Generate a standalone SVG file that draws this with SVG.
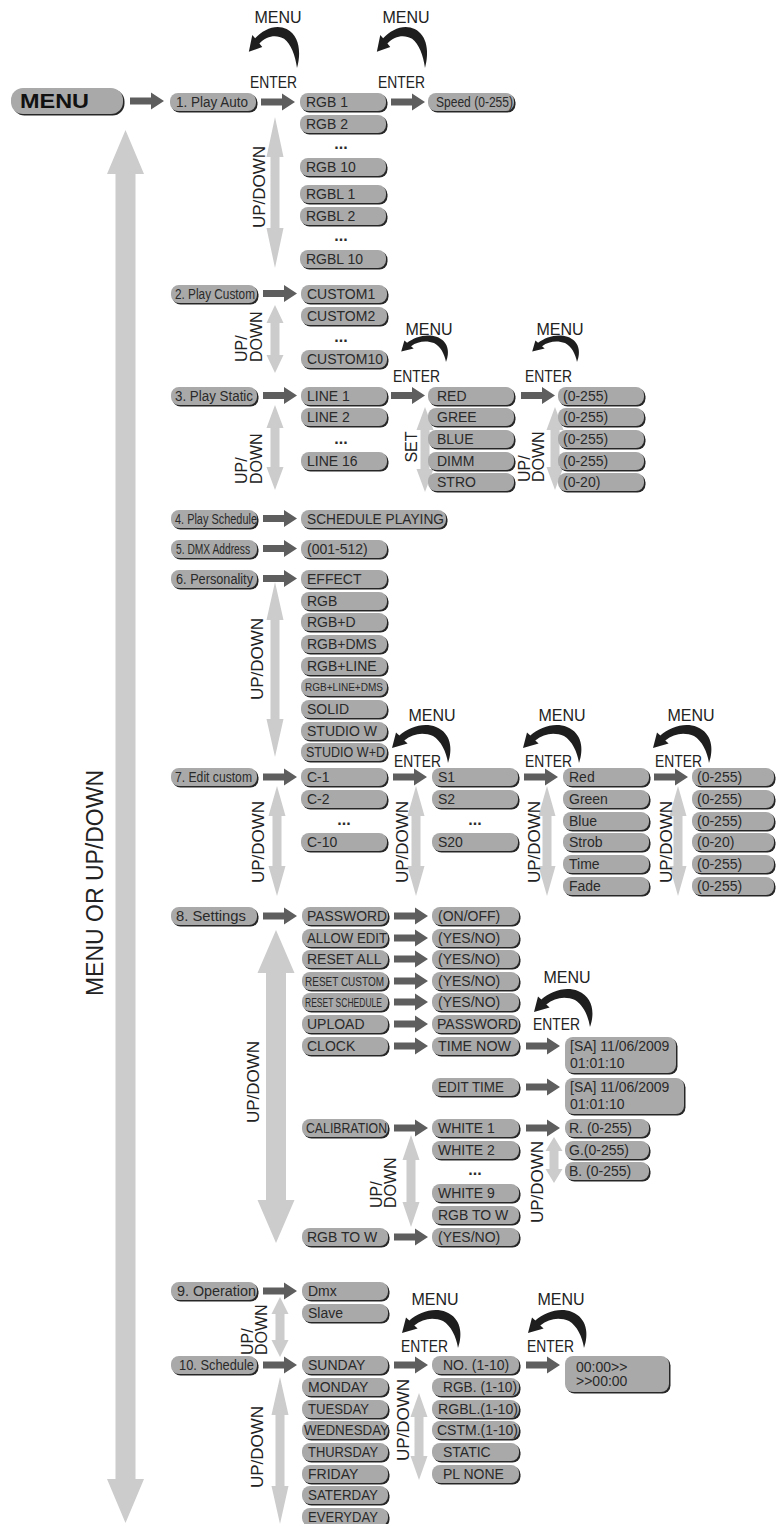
<svg xmlns="http://www.w3.org/2000/svg" xmlns:xlink="http://www.w3.org/1999/xlink" width="777" height="1524" viewBox="0 0 777 1524">
<style>
.bx{fill:#a9a9a9}
.sh{fill:#262626}
.t{font-family:"Liberation Sans",Arial,sans-serif;font-size:14px;fill:#2a2a2a}
.lb{font-family:"Liberation Sans",Arial,sans-serif;font-size:16px;fill:#222}
.dots{font-family:"Liberation Sans",Arial,sans-serif;font-size:16px;font-weight:bold;fill:#2a2a2a}
.da{fill:#cccccc}
.ar{fill:#5e5e5e}
.cv{fill:#1e1e1e}
</style>
<defs>
<path id="arr" d="M0,-3.5 H21 V-8.5 L34,0 L21,8.5 V3.5 H0 Z"/>
<path id="crv" d="M0,0 C5,-14 3,-30 -12,-36 C-24,-41 -39,-36 -48.7,-27.5 L-52,-30.6 L-56,-15 L-40.4,-19.4 L-43.7,-22.6 C-35,-30 -24,-31 -15,-27 C-7,-22 -2,-12 0,0 Z"/>
</defs>
<rect width="777" height="1524" fill="#ffffff"/>

<g id="connectors">
<!-- light grey double arrows -->
<path class="da" d="M125.5,130 L144,174 L135.5,174 L135.5,1479 L144,1479 L125.5,1523 L107,1479 L115.5,1479 L115.5,174 L107,174 Z"/>
<path class="da" d="M276,930 L294.5,973 L286,973 L286,1200 L294.5,1200 L276,1243 L257.5,1200 L266,1200 L266,973 L257.5,973 Z"/>
<path class="da" d="M275,117 L283.5,157 L279.5,157 L279.5,228 L283.5,228 L275,268 L266.5,228 L270.5,228 L270.5,157 L266.5,157 Z"/>
<path class="da" d="M275,305 L283.5,323 L279.5,323 L279.5,355 L283.5,355 L275,373 L266.5,355 L270.5,355 L270.5,323 L266.5,323 Z"/>
<path class="da" d="M275,405 L283.5,428 L279.5,428 L279.5,467 L283.5,467 L275,490 L266.5,467 L270.5,467 L270.5,428 L266.5,428 Z"/>
<path class="da" d="M425,407 L433.5,430 L429.5,430 L429.5,469 L433.5,469 L425,492 L416.5,469 L420.5,469 L420.5,430 L416.5,430 Z"/>
<path class="da" d="M555,407 L563.5,430 L559.5,430 L559.5,467 L563.5,467 L555,490 L546.5,467 L550.5,467 L550.5,430 L546.5,430 Z"/>
<path class="da" d="M275,582 L283.5,620 L279.5,620 L279.5,719 L283.5,719 L275,757 L266.5,719 L270.5,719 L270.5,620 L266.5,620 Z"/>
<path class="da" d="M277,786 L285.5,816 L281.5,816 L281.5,866 L285.5,866 L277,896 L268.5,866 L272.5,866 L272.5,816 L268.5,816 Z"/>
<path class="da" d="M416,786 L424.5,816 L420.5,816 L420.5,866 L424.5,866 L416,896 L407.5,866 L411.5,866 L411.5,816 L407.5,816 Z"/>
<path class="da" d="M547,786 L555.5,816 L551.5,816 L551.5,866 L555.5,866 L547,896 L538.5,866 L542.5,866 L542.5,816 L538.5,816 Z"/>
<path class="da" d="M678,786 L686.5,816 L682.5,816 L682.5,866 L686.5,866 L678,896 L669.5,866 L673.5,866 L673.5,816 L669.5,816 Z"/>
<path class="da" d="M411,1135 L419.5,1160 L415.5,1160 L415.5,1202 L419.5,1202 L411,1227 L402.5,1202 L406.5,1202 L406.5,1160 L402.5,1160 Z"/>
<path class="da" d="M554,1137 L562.5,1151 L558.5,1151 L558.5,1169 L562.5,1169 L554,1183 L545.5,1169 L549.5,1169 L549.5,1151 L545.5,1151 Z"/>
<path class="da" d="M280,1297 L288.5,1314 L284.5,1314 L284.5,1340 L288.5,1340 L280,1357 L271.5,1340 L275.5,1340 L275.5,1314 L271.5,1314 Z"/>
<path class="da" d="M280,1377 L288.5,1415 L284.5,1415 L284.5,1486 L288.5,1486 L280,1524 L271.5,1486 L275.5,1486 L275.5,1415 L271.5,1415 Z"/>
<path class="da" d="M419,1393 L427.5,1417 L423.5,1417 L423.5,1456 L427.5,1456 L419,1480 L410.5,1456 L414.5,1456 L414.5,1417 L410.5,1417 Z"/>

<!-- dark block arrows -->
<use href="#arr" class="ar" x="130" y="101"/>
<use href="#arr" class="ar" x="261" y="102"/>
<use href="#arr" class="ar" x="391" y="102"/>
<use href="#arr" class="ar" x="263" y="293.5"/>
<use href="#arr" class="ar" x="263" y="395.5"/>
<use href="#arr" class="ar" x="391" y="395.5"/>
<use href="#arr" class="ar" x="521" y="395.5"/>
<use href="#arr" class="ar" x="263" y="518.5"/>
<use href="#arr" class="ar" x="263" y="548.5"/>
<use href="#arr" class="ar" x="263" y="578.5"/>
<use href="#arr" class="ar" x="263" y="777"/>
<use href="#arr" class="ar" x="393" y="777"/>
<use href="#arr" class="ar" x="524" y="777"/>
<use href="#arr" class="ar" x="654" y="777"/>
<use href="#arr" class="ar" x="263" y="916"/>
<use href="#arr" class="ar" x="394" y="916"/>
<use href="#arr" class="ar" x="394" y="938"/>
<use href="#arr" class="ar" x="394" y="959"/>
<use href="#arr" class="ar" x="394" y="981"/>
<use href="#arr" class="ar" x="394" y="1002"/>
<use href="#arr" class="ar" x="394" y="1024"/>
<use href="#arr" class="ar" x="394" y="1046"/>
<use href="#arr" class="ar" x="526" y="1046"/>
<use href="#arr" class="ar" x="526" y="1087"/>
<use href="#arr" class="ar" x="394" y="1128"/>
<use href="#arr" class="ar" x="526" y="1128"/>
<use href="#arr" class="ar" x="394" y="1237"/>
<use href="#arr" class="ar" x="263" y="1291"/>
<use href="#arr" class="ar" x="263" y="1365"/>
<use href="#arr" class="ar" x="394" y="1365"/>
<use href="#arr" class="ar" x="526" y="1365"/>

<!-- MENU / ENTER curved arrows -->
<use href="#crv" class="cv" transform="translate(297,68) scale(0.86,1.08)"/>
<use href="#crv" class="cv" transform="translate(425,68) scale(0.86,1.08)"/>
<use href="#crv" class="cv" transform="translate(446,362) scale(0.8,0.7)"/>
<use href="#crv" class="cv" transform="translate(577,362) scale(0.8,0.7)"/>
<use href="#crv" class="cv" transform="translate(448,763)"/>
<use href="#crv" class="cv" transform="translate(579,763)"/>
<use href="#crv" class="cv" transform="translate(709,763)"/>
<use href="#crv" class="cv" transform="translate(590,1027)"/>
<use href="#crv" class="cv" transform="translate(458,1348)"/>
<use href="#crv" class="cv" transform="translate(584,1348)"/>

<!-- labels -->
<text class="lb" x="278" y="23" text-anchor="middle">MENU</text>
<text class="lb" x="250" y="88" textLength="47" lengthAdjust="spacingAndGlyphs">ENTER</text>
<text class="lb" x="406" y="23" text-anchor="middle">MENU</text>
<text class="lb" x="378" y="88" textLength="47" lengthAdjust="spacingAndGlyphs">ENTER</text>
<text class="lb" x="429" y="335" text-anchor="middle">MENU</text>
<text class="lb" x="393" y="382" textLength="47" lengthAdjust="spacingAndGlyphs">ENTER</text>
<text class="lb" x="560" y="335" text-anchor="middle">MENU</text>
<text class="lb" x="525" y="382" textLength="47" lengthAdjust="spacingAndGlyphs">ENTER</text>
<text class="lb" x="432" y="721" text-anchor="middle">MENU</text>
<text class="lb" x="394" y="767" textLength="47" lengthAdjust="spacingAndGlyphs">ENTER</text>
<text class="lb" x="562" y="721" text-anchor="middle">MENU</text>
<text class="lb" x="525" y="767" textLength="47" lengthAdjust="spacingAndGlyphs">ENTER</text>
<text class="lb" x="691" y="721" text-anchor="middle">MENU</text>
<text class="lb" x="655" y="767" textLength="47" lengthAdjust="spacingAndGlyphs">ENTER</text>
<text class="lb" x="567" y="983" text-anchor="middle">MENU</text>
<text class="lb" x="533" y="1030" textLength="47" lengthAdjust="spacingAndGlyphs">ENTER</text>
<text class="lb" x="435" y="1305" text-anchor="middle">MENU</text>
<text class="lb" x="401" y="1352" textLength="47" lengthAdjust="spacingAndGlyphs">ENTER</text>
<text class="lb" x="561" y="1305" text-anchor="middle">MENU</text>
<text class="lb" x="527" y="1352" textLength="47" lengthAdjust="spacingAndGlyphs">ENTER</text>

<text class="lb" style="font-size:23px" transform="translate(103,883) rotate(-90)" text-anchor="middle">MENU OR UP/DOWN</text>
<text class="lb" style="font-size:17px" transform="translate(265,187) rotate(-90)" text-anchor="middle">UP/DOWN</text>
<text class="lb" transform="translate(247,362) rotate(-90)">UP/</text>
<text class="lb" transform="translate(262,362) rotate(-90)">DOWN</text>
<text class="lb" transform="translate(247,484) rotate(-90)">UP/</text>
<text class="lb" transform="translate(262,484) rotate(-90)">DOWN</text>
<text class="lb" transform="translate(417,447) rotate(-90)" text-anchor="middle">SET</text>
<text class="lb" transform="translate(530,482) rotate(-90)">UP/</text>
<text class="lb" transform="translate(544,482) rotate(-90)">DOWN</text>
<text class="lb" style="font-size:17px" transform="translate(263,659) rotate(-90)" text-anchor="middle">UP/DOWN</text>
<text class="lb" style="font-size:17px" transform="translate(264,842) rotate(-90)" text-anchor="middle">UP/DOWN</text>
<text class="lb" style="font-size:17px" transform="translate(408,842) rotate(-90)" text-anchor="middle">UP/DOWN</text>
<text class="lb" style="font-size:17px" transform="translate(540,842) rotate(-90)" text-anchor="middle">UP/DOWN</text>
<text class="lb" style="font-size:17px" transform="translate(672,842) rotate(-90)" text-anchor="middle">UP/DOWN</text>
<text class="lb" style="font-size:17px" transform="translate(259,1082) rotate(-90)" text-anchor="middle">UP/DOWN</text>
<text class="lb" transform="translate(382,1208) rotate(-90)">UP/</text>
<text class="lb" transform="translate(396,1208) rotate(-90)">DOWN</text>
<text class="lb" style="font-size:17px" transform="translate(543,1182) rotate(-90)" text-anchor="middle">UP/DOWN</text>
<text class="lb" transform="translate(253,1355) rotate(-90)">UP/</text>
<text class="lb" transform="translate(267,1355) rotate(-90)">DOWN</text>
<text class="lb" style="font-size:17px" transform="translate(263,1447) rotate(-90)" text-anchor="middle">UP/DOWN</text>
<text class="lb" style="font-size:17px" transform="translate(409,1420) rotate(-90)" text-anchor="middle">UP/DOWN</text>

<!-- ellipses -->
<text class="dots" x="341" y="149" text-anchor="middle">...</text>
<text class="dots" x="341" y="241" text-anchor="middle">...</text>
<text class="dots" x="341" y="342" text-anchor="middle">...</text>
<text class="dots" x="341" y="444" text-anchor="middle">...</text>
<text class="dots" x="344" y="825" text-anchor="middle">...</text>
<text class="dots" x="475" y="825" text-anchor="middle">...</text>
<text class="dots" x="475" y="1175" text-anchor="middle">...</text>
</g>

<!-- MENU root -->
<g id="menu"><rect class="sh" x="12.5" y="89.5" width="112" height="26" rx="12"/><rect class="bx" x="11" y="88" width="112" height="26" rx="12"/><text x="20" y="108" style="font-family:'Liberation Sans',Arial,sans-serif;font-size:20px;font-weight:bold;fill:#111" textLength="69" lengthAdjust="spacingAndGlyphs">MENU</text></g>

<!-- column A -->
<g id="playauto"><rect class="sh" x="171.5" y="94.5" width="86" height="18" rx="8"/><rect class="bx" x="170" y="93" width="86" height="18" rx="8"/><text class="t" x="176" y="107" textLength="72" lengthAdjust="spacingAndGlyphs">1. Play Auto</text></g>
<g id="playcustom"><rect class="sh" x="172.5" y="286.5" width="86" height="18" rx="8"/><rect class="bx" x="171" y="285" width="86" height="18" rx="8"/><text class="t" x="175" y="299" textLength="80" lengthAdjust="spacingAndGlyphs">2. Play Custom</text></g>
<g id="playstatic"><rect class="sh" x="172.5" y="388.5" width="86" height="18" rx="8"/><rect class="bx" x="171" y="387" width="86" height="18" rx="8"/><text class="t" x="175" y="401" textLength="78" lengthAdjust="spacingAndGlyphs">3. Play Static</text></g>
<g id="playschedule"><rect class="sh" x="172.5" y="511.5" width="86" height="18" rx="8"/><rect class="bx" x="171" y="510" width="86" height="18" rx="8"/><text class="t" x="175" y="524" textLength="82" lengthAdjust="spacingAndGlyphs">4. Play Schedule</text></g>
<g id="dmxaddress"><rect class="sh" x="172.5" y="541.5" width="86" height="18" rx="8"/><rect class="bx" x="171" y="540" width="86" height="18" rx="8"/><text class="t" x="176" y="554" textLength="74" lengthAdjust="spacingAndGlyphs">5. DMX Address</text></g>
<g id="personality"><rect class="sh" x="172.5" y="571.5" width="86" height="18" rx="8"/><rect class="bx" x="171" y="570" width="86" height="18" rx="8"/><text class="t" x="176" y="584" textLength="77" lengthAdjust="spacingAndGlyphs">6. Personality</text></g>
<g id="editcustom"><rect class="sh" x="172.5" y="769.5" width="86" height="18" rx="8"/><rect class="bx" x="171" y="768" width="86" height="18" rx="8"/><text class="t" x="175" y="782" textLength="77" lengthAdjust="spacingAndGlyphs">7. Edit custom</text></g>
<g id="settings"><rect class="sh" x="172.5" y="908.5" width="86" height="18" rx="8"/><rect class="bx" x="171" y="907" width="86" height="18" rx="8"/><text class="t" x="176" y="921" textLength="70" lengthAdjust="spacingAndGlyphs">8. Settings</text></g>
<g id="operation"><rect class="sh" x="172.5" y="1283.5" width="86" height="18" rx="8"/><rect class="bx" x="171" y="1282" width="86" height="18" rx="8"/><text class="t" x="177" y="1296" textLength="79" lengthAdjust="spacingAndGlyphs">9. Operation</text></g>
<g id="schedule"><rect class="sh" x="172.5" y="1357.5" width="86" height="18" rx="8"/><rect class="bx" x="171" y="1356" width="86" height="18" rx="8"/><text class="t" x="179" y="1370" textLength="75" lengthAdjust="spacingAndGlyphs">10. Schedule</text></g>

<!-- row 1 -->
<g id="rgb1"><rect class="sh" x="301.5" y="94.5" width="86" height="18" rx="8"/><rect class="bx" x="300" y="93" width="86" height="18" rx="8"/><text class="t" x="306" y="107">RGB 1</text></g>
<g id="rgb2"><rect class="sh" x="301.5" y="116.5" width="86" height="18" rx="8"/><rect class="bx" x="300" y="115" width="86" height="18" rx="8"/><text class="t" x="306" y="129">RGB 2</text></g>
<g id="rgb10"><rect class="sh" x="301.5" y="159.5" width="86" height="18" rx="8"/><rect class="bx" x="300" y="158" width="86" height="18" rx="8"/><text class="t" x="306" y="172">RGB 10</text></g>
<g id="rgbl1"><rect class="sh" x="301.5" y="186.5" width="86" height="18" rx="8"/><rect class="bx" x="300" y="185" width="86" height="18" rx="8"/><text class="t" x="306" y="199">RGBL 1</text></g>
<g id="rgbl2"><rect class="sh" x="301.5" y="208.5" width="86" height="18" rx="8"/><rect class="bx" x="300" y="207" width="86" height="18" rx="8"/><text class="t" x="306" y="221">RGBL 2</text></g>
<g id="rgbl10"><rect class="sh" x="301.5" y="251.5" width="86" height="18" rx="8"/><rect class="bx" x="300" y="250" width="86" height="18" rx="8"/><text class="t" x="306" y="264">RGBL 10</text></g>
<g id="speed"><rect class="sh" x="429.5" y="94.5" width="86" height="18" rx="8"/><rect class="bx" x="428" y="93" width="86" height="18" rx="8"/><text class="t" x="436" y="107" textLength="77" lengthAdjust="spacingAndGlyphs">Speed (0-255)</text></g>

<!-- row 2 -->
<g id="custom1"><rect class="sh" x="302.5" y="286.5" width="86" height="18" rx="8"/><rect class="bx" x="301" y="285" width="86" height="18" rx="8"/><text class="t" x="307" y="299">CUSTOM1</text></g>
<g id="custom2"><rect class="sh" x="302.5" y="308.5" width="86" height="18" rx="8"/><rect class="bx" x="301" y="307" width="86" height="18" rx="8"/><text class="t" x="307" y="321">CUSTOM2</text></g>
<g id="custom10"><rect class="sh" x="302.5" y="351.5" width="86" height="18" rx="8"/><rect class="bx" x="301" y="350" width="86" height="18" rx="8"/><text class="t" x="307" y="364">CUSTOM10</text></g>

<!-- row 3 -->
<g id="line1"><rect class="sh" x="302.5" y="388.5" width="86" height="18" rx="8"/><rect class="bx" x="301" y="387" width="86" height="18" rx="8"/><text class="t" x="307" y="401">LINE 1</text></g>
<g id="line2"><rect class="sh" x="302.5" y="409.5" width="86" height="18" rx="8"/><rect class="bx" x="301" y="408" width="86" height="18" rx="8"/><text class="t" x="307" y="422">LINE 2</text></g>
<g id="line16"><rect class="sh" x="302.5" y="453.5" width="86" height="18" rx="8"/><rect class="bx" x="301" y="452" width="86" height="18" rx="8"/><text class="t" x="307" y="466">LINE 16</text></g>
<g id="red"><rect class="sh" x="429.5" y="388.5" width="86" height="18" rx="8"/><rect class="bx" x="428" y="387" width="86" height="18" rx="8"/><text class="t" x="437" y="401">RED</text></g>
<g id="gree"><rect class="sh" x="429.5" y="409.5" width="86" height="18" rx="8"/><rect class="bx" x="428" y="408" width="86" height="18" rx="8"/><text class="t" x="437" y="422">GREE</text></g>
<g id="blue"><rect class="sh" x="429.5" y="431.5" width="86" height="18" rx="8"/><rect class="bx" x="428" y="430" width="86" height="18" rx="8"/><text class="t" x="437" y="444">BLUE</text></g>
<g id="dimm"><rect class="sh" x="429.5" y="453.5" width="86" height="18" rx="8"/><rect class="bx" x="428" y="452" width="86" height="18" rx="8"/><text class="t" x="437" y="466">DIMM</text></g>
<g id="stro"><rect class="sh" x="429.5" y="474.5" width="86" height="18" rx="8"/><rect class="bx" x="428" y="473" width="86" height="18" rx="8"/><text class="t" x="437" y="487">STRO</text></g>
<g id="v1"><rect class="sh" x="559.5" y="388.5" width="86" height="18" rx="8"/><rect class="bx" x="558" y="387" width="86" height="18" rx="8"/><text class="t" x="563" y="401">(0-255)</text></g>
<g id="v2"><rect class="sh" x="559.5" y="409.5" width="86" height="18" rx="8"/><rect class="bx" x="558" y="408" width="86" height="18" rx="8"/><text class="t" x="563" y="422">(0-255)</text></g>
<g id="v3"><rect class="sh" x="559.5" y="431.5" width="86" height="18" rx="8"/><rect class="bx" x="558" y="430" width="86" height="18" rx="8"/><text class="t" x="563" y="444">(0-255)</text></g>
<g id="v4"><rect class="sh" x="559.5" y="453.5" width="86" height="18" rx="8"/><rect class="bx" x="558" y="452" width="86" height="18" rx="8"/><text class="t" x="563" y="466">(0-255)</text></g>
<g id="v5"><rect class="sh" x="559.5" y="474.5" width="86" height="18" rx="8"/><rect class="bx" x="558" y="473" width="86" height="18" rx="8"/><text class="t" x="563" y="487">(0-20)</text></g>

<!-- row 4/5 -->
<g id="schedplaying"><rect class="sh" x="302.5" y="511.5" width="145" height="18" rx="8"/><rect class="bx" x="301" y="510" width="145" height="18" rx="8"/><text class="t" x="307" y="524" textLength="137" lengthAdjust="spacingAndGlyphs">SCHEDULE PLAYING</text></g>
<g id="dmxrange"><rect class="sh" x="302.5" y="541.5" width="86" height="18" rx="8"/><rect class="bx" x="301" y="540" width="86" height="18" rx="8"/><text class="t" x="307" y="554">(001-512)</text></g>

<!-- row 6 -->
<g id="effect"><rect class="sh" x="302.5" y="571.5" width="86" height="18" rx="8"/><rect class="bx" x="301" y="570" width="86" height="18" rx="8"/><text class="t" x="307" y="584">EFFECT</text></g>
<g id="p-rgb"><rect class="sh" x="302.5" y="593.5" width="86" height="18" rx="8"/><rect class="bx" x="301" y="592" width="86" height="18" rx="8"/><text class="t" x="307" y="606">RGB</text></g>
<g id="p-rgbd"><rect class="sh" x="302.5" y="614.5" width="86" height="18" rx="8"/><rect class="bx" x="301" y="613" width="86" height="18" rx="8"/><text class="t" x="307" y="627">RGB+D</text></g>
<g id="p-rgbdms"><rect class="sh" x="302.5" y="636.5" width="86" height="18" rx="8"/><rect class="bx" x="301" y="635" width="86" height="18" rx="8"/><text class="t" x="307" y="649">RGB+DMS</text></g>
<g id="p-rgbline"><rect class="sh" x="302.5" y="658.5" width="86" height="18" rx="8"/><rect class="bx" x="301" y="657" width="86" height="18" rx="8"/><text class="t" x="307" y="671">RGB+LINE</text></g>
<g id="p-rgblinedms"><rect class="sh" x="302.5" y="679.5" width="86" height="18" rx="8"/><rect class="bx" x="301" y="678" width="86" height="18" rx="8"/><text class="t" x="305" y="691" style="font-size:10px" textLength="78" lengthAdjust="spacingAndGlyphs">RGB+LINE+DMS</text></g>
<g id="p-solid"><rect class="sh" x="302.5" y="701.5" width="86" height="18" rx="8"/><rect class="bx" x="301" y="700" width="86" height="18" rx="8"/><text class="t" x="307" y="714">SOLID</text></g>
<g id="p-studiow"><rect class="sh" x="302.5" y="723.5" width="86" height="18" rx="8"/><rect class="bx" x="301" y="722" width="86" height="18" rx="8"/><text class="t" x="307" y="736">STUDIO W</text></g>
<g id="p-studiowd"><rect class="sh" x="302.5" y="744.5" width="86" height="18" rx="8"/><rect class="bx" x="301" y="743" width="86" height="18" rx="8"/><text class="t" x="306" y="757" textLength="79" lengthAdjust="spacingAndGlyphs">STUDIO W+D</text></g>

<!-- row 7 -->
<g id="c1"><rect class="sh" x="302.5" y="769.5" width="86" height="18" rx="8"/><rect class="bx" x="301" y="768" width="86" height="18" rx="8"/><text class="t" x="307" y="782">C-1</text></g>
<g id="c2"><rect class="sh" x="302.5" y="791.5" width="86" height="18" rx="8"/><rect class="bx" x="301" y="790" width="86" height="18" rx="8"/><text class="t" x="307" y="804">C-2</text></g>
<g id="c10"><rect class="sh" x="302.5" y="834.5" width="86" height="18" rx="8"/><rect class="bx" x="301" y="833" width="86" height="18" rx="8"/><text class="t" x="307" y="847">C-10</text></g>
<g id="s1"><rect class="sh" x="433.5" y="769.5" width="86" height="18" rx="8"/><rect class="bx" x="432" y="768" width="86" height="18" rx="8"/><text class="t" x="438" y="782">S1</text></g>
<g id="s2"><rect class="sh" x="433.5" y="791.5" width="86" height="18" rx="8"/><rect class="bx" x="432" y="790" width="86" height="18" rx="8"/><text class="t" x="438" y="804">S2</text></g>
<g id="s20"><rect class="sh" x="433.5" y="834.5" width="86" height="18" rx="8"/><rect class="bx" x="432" y="833" width="86" height="18" rx="8"/><text class="t" x="438" y="847">S20</text></g>
<g id="e-red"><rect class="sh" x="564.5" y="769.5" width="86" height="18" rx="8"/><rect class="bx" x="563" y="768" width="86" height="18" rx="8"/><text class="t" x="569" y="782">Red</text></g>
<g id="e-green"><rect class="sh" x="564.5" y="791.5" width="86" height="18" rx="8"/><rect class="bx" x="563" y="790" width="86" height="18" rx="8"/><text class="t" x="569" y="804">Green</text></g>
<g id="e-blue"><rect class="sh" x="564.5" y="813.5" width="86" height="18" rx="8"/><rect class="bx" x="563" y="812" width="86" height="18" rx="8"/><text class="t" x="569" y="826">Blue</text></g>
<g id="e-strob"><rect class="sh" x="564.5" y="834.5" width="86" height="18" rx="8"/><rect class="bx" x="563" y="833" width="86" height="18" rx="8"/><text class="t" x="569" y="847">Strob</text></g>
<g id="e-time"><rect class="sh" x="564.5" y="856.5" width="86" height="18" rx="8"/><rect class="bx" x="563" y="855" width="86" height="18" rx="8"/><text class="t" x="569" y="869">Time</text></g>
<g id="e-fade"><rect class="sh" x="564.5" y="878.5" width="86" height="18" rx="8"/><rect class="bx" x="563" y="877" width="86" height="18" rx="8"/><text class="t" x="569" y="891">Fade</text></g>
<g id="ev1"><rect class="sh" x="693.5" y="769.5" width="82" height="18" rx="8"/><rect class="bx" x="692" y="768" width="82" height="18" rx="8"/><text class="t" x="697" y="782">(0-255)</text></g>
<g id="ev2"><rect class="sh" x="693.5" y="791.5" width="82" height="18" rx="8"/><rect class="bx" x="692" y="790" width="82" height="18" rx="8"/><text class="t" x="697" y="804">(0-255)</text></g>
<g id="ev3"><rect class="sh" x="693.5" y="813.5" width="82" height="18" rx="8"/><rect class="bx" x="692" y="812" width="82" height="18" rx="8"/><text class="t" x="697" y="826">(0-255)</text></g>
<g id="ev4"><rect class="sh" x="693.5" y="834.5" width="82" height="18" rx="8"/><rect class="bx" x="692" y="833" width="82" height="18" rx="8"/><text class="t" x="697" y="847">(0-20)</text></g>
<g id="ev5"><rect class="sh" x="693.5" y="856.5" width="82" height="18" rx="8"/><rect class="bx" x="692" y="855" width="82" height="18" rx="8"/><text class="t" x="697" y="869">(0-255)</text></g>
<g id="ev6"><rect class="sh" x="693.5" y="878.5" width="82" height="18" rx="8"/><rect class="bx" x="692" y="877" width="82" height="18" rx="8"/><text class="t" x="697" y="891">(0-255)</text></g>

<!-- row 8 -->
<g id="password"><rect class="sh" x="303.5" y="908.5" width="86" height="18" rx="8"/><rect class="bx" x="302" y="907" width="86" height="18" rx="8"/><text class="t" x="307" y="921" textLength="80" lengthAdjust="spacingAndGlyphs">PASSWORD</text></g>
<g id="allowedit"><rect class="sh" x="303.5" y="930.5" width="86" height="18" rx="8"/><rect class="bx" x="302" y="929" width="86" height="18" rx="8"/><text class="t" x="307" y="943" textLength="80" lengthAdjust="spacingAndGlyphs">ALLOW EDIT</text></g>
<g id="resetall"><rect class="sh" x="303.5" y="951.5" width="86" height="18" rx="8"/><rect class="bx" x="302" y="950" width="86" height="18" rx="8"/><text class="t" x="307" y="964">RESET ALL</text></g>
<g id="resetcustom"><rect class="sh" x="303.5" y="973.5" width="86" height="18" rx="8"/><rect class="bx" x="302" y="972" width="86" height="18" rx="8"/><text class="t" x="305" y="986" style="font-size:12px" textLength="79" lengthAdjust="spacingAndGlyphs">RESET CUSTOM</text></g>
<g id="resetschedule"><rect class="sh" x="303.5" y="994.5" width="86" height="18" rx="8"/><rect class="bx" x="302" y="993" width="86" height="18" rx="8"/><text class="t" x="305" y="1007" style="font-size:12px" textLength="77" lengthAdjust="spacingAndGlyphs">RESET SCHEDULE</text></g>
<g id="upload"><rect class="sh" x="303.5" y="1016.5" width="86" height="18" rx="8"/><rect class="bx" x="302" y="1015" width="86" height="18" rx="8"/><text class="t" x="307" y="1029">UPLOAD</text></g>
<g id="clock"><rect class="sh" x="303.5" y="1038.5" width="86" height="18" rx="8"/><rect class="bx" x="302" y="1037" width="86" height="18" rx="8"/><text class="t" x="307" y="1051">CLOCK</text></g>
<g id="calibration"><rect class="sh" x="303.5" y="1120.5" width="86" height="18" rx="8"/><rect class="bx" x="302" y="1119" width="86" height="18" rx="8"/><text class="t" x="306" y="1133" textLength="81" lengthAdjust="spacingAndGlyphs">CALIBRATION</text></g>
<g id="rgbtow"><rect class="sh" x="303.5" y="1229.5" width="86" height="18" rx="8"/><rect class="bx" x="302" y="1228" width="86" height="18" rx="8"/><text class="t" x="307" y="1242">RGB TO W</text></g>
<g id="onoff"><rect class="sh" x="433.5" y="908.5" width="87" height="18" rx="8"/><rect class="bx" x="432" y="907" width="87" height="18" rx="8"/><text class="t" x="438" y="921">(ON/OFF)</text></g>
<g id="yn1"><rect class="sh" x="433.5" y="930.5" width="87" height="18" rx="8"/><rect class="bx" x="432" y="929" width="87" height="18" rx="8"/><text class="t" x="438" y="943">(YES/NO)</text></g>
<g id="yn2"><rect class="sh" x="433.5" y="951.5" width="87" height="18" rx="8"/><rect class="bx" x="432" y="950" width="87" height="18" rx="8"/><text class="t" x="438" y="964">(YES/NO)</text></g>
<g id="yn3"><rect class="sh" x="433.5" y="973.5" width="87" height="18" rx="8"/><rect class="bx" x="432" y="972" width="87" height="18" rx="8"/><text class="t" x="438" y="986">(YES/NO)</text></g>
<g id="yn4"><rect class="sh" x="433.5" y="994.5" width="87" height="18" rx="8"/><rect class="bx" x="432" y="993" width="87" height="18" rx="8"/><text class="t" x="438" y="1007">(YES/NO)</text></g>
<g id="uploadpw"><rect class="sh" x="433.5" y="1016.5" width="87" height="18" rx="8"/><rect class="bx" x="432" y="1015" width="87" height="18" rx="8"/><text class="t" x="437" y="1029" textLength="81" lengthAdjust="spacingAndGlyphs">PASSWORD</text></g>
<g id="timenow"><rect class="sh" x="433.5" y="1038.5" width="87" height="18" rx="8"/><rect class="bx" x="432" y="1037" width="87" height="18" rx="8"/><text class="t" x="438" y="1051" textLength="73" lengthAdjust="spacingAndGlyphs">TIME NOW</text></g>
<g id="edittime"><rect class="sh" x="433.5" y="1079.5" width="87" height="18" rx="8"/><rect class="bx" x="432" y="1078" width="87" height="18" rx="8"/><text class="t" x="438" y="1092" textLength="66" lengthAdjust="spacingAndGlyphs">EDIT TIME</text></g>
<g id="white1"><rect class="sh" x="433.5" y="1120.5" width="87" height="18" rx="8"/><rect class="bx" x="432" y="1119" width="87" height="18" rx="8"/><text class="t" x="438" y="1133">WHITE 1</text></g>
<g id="white2"><rect class="sh" x="433.5" y="1142.5" width="87" height="18" rx="8"/><rect class="bx" x="432" y="1141" width="87" height="18" rx="8"/><text class="t" x="438" y="1155">WHITE 2</text></g>
<g id="white9"><rect class="sh" x="433.5" y="1185.5" width="87" height="18" rx="8"/><rect class="bx" x="432" y="1184" width="87" height="18" rx="8"/><text class="t" x="438" y="1198">WHITE 9</text></g>
<g id="rgbtow2"><rect class="sh" x="433.5" y="1207.5" width="87" height="18" rx="8"/><rect class="bx" x="432" y="1206" width="87" height="18" rx="8"/><text class="t" x="438" y="1220">RGB TO W</text></g>
<g id="yn5"><rect class="sh" x="433.5" y="1229.5" width="87" height="18" rx="8"/><rect class="bx" x="432" y="1228" width="87" height="18" rx="8"/><text class="t" x="438" y="1242">(YES/NO)</text></g>
<g id="sa1"><rect class="sh" x="566.5" y="1038.5" width="111" height="36" rx="8"/><rect class="bx" x="565" y="1037" width="111" height="36" rx="8"/><text class="t" x="570" y="1051">[SA] 11/06/2009</text><text class="t" x="570" y="1068">01:01:10</text></g>
<g id="sa2"><rect class="sh" x="566.5" y="1079.5" width="119" height="36" rx="8"/><rect class="bx" x="565" y="1078" width="119" height="36" rx="8"/><text class="t" x="570" y="1092">[SA] 11/06/2009</text><text class="t" x="570" y="1109">01:01:10</text></g>
<g id="calr"><rect class="sh" x="566.5" y="1120.5" width="84" height="18" rx="8"/><rect class="bx" x="565" y="1119" width="84" height="18" rx="8"/><text class="t" x="569" y="1133">R. (0-255)</text></g>
<g id="calg"><rect class="sh" x="566.5" y="1142.5" width="84" height="18" rx="8"/><rect class="bx" x="565" y="1141" width="84" height="18" rx="8"/><text class="t" x="569" y="1155">G.(0-255)</text></g>
<g id="calb"><rect class="sh" x="566.5" y="1163.5" width="84" height="18" rx="8"/><rect class="bx" x="565" y="1162" width="84" height="18" rx="8"/><text class="t" x="569" y="1176">B. (0-255)</text></g>

<!-- row 9/10 -->
<g id="dmx"><rect class="sh" x="303.5" y="1283.5" width="86" height="18" rx="8"/><rect class="bx" x="302" y="1282" width="86" height="18" rx="8"/><text class="t" x="308" y="1296">Dmx</text></g>
<g id="slave"><rect class="sh" x="303.5" y="1305.5" width="86" height="18" rx="8"/><rect class="bx" x="302" y="1304" width="86" height="18" rx="8"/><text class="t" x="308" y="1318">Slave</text></g>
<g id="sunday"><rect class="sh" x="303.5" y="1357.5" width="86" height="18" rx="8"/><rect class="bx" x="302" y="1356" width="86" height="18" rx="8"/><text class="t" x="308" y="1370">SUNDAY</text></g>
<g id="monday"><rect class="sh" x="303.5" y="1379.5" width="86" height="18" rx="8"/><rect class="bx" x="302" y="1378" width="86" height="18" rx="8"/><text class="t" x="308" y="1392">MONDAY</text></g>
<g id="tuesday"><rect class="sh" x="303.5" y="1401.5" width="86" height="18" rx="8"/><rect class="bx" x="302" y="1400" width="86" height="18" rx="8"/><text class="t" x="308" y="1414" textLength="61" lengthAdjust="spacingAndGlyphs">TUESDAY</text></g>
<g id="wednesday"><rect class="sh" x="303.5" y="1422.5" width="86" height="18" rx="8"/><rect class="bx" x="302" y="1421" width="86" height="18" rx="8"/><text class="t" x="304" y="1435" textLength="85" lengthAdjust="spacingAndGlyphs">WEDNESDAY</text></g>
<g id="thursday"><rect class="sh" x="303.5" y="1444.5" width="86" height="18" rx="8"/><rect class="bx" x="302" y="1443" width="86" height="18" rx="8"/><text class="t" x="308" y="1457" textLength="70" lengthAdjust="spacingAndGlyphs">THURSDAY</text></g>
<g id="friday"><rect class="sh" x="303.5" y="1466.5" width="86" height="18" rx="8"/><rect class="bx" x="302" y="1465" width="86" height="18" rx="8"/><text class="t" x="308" y="1479">FRIDAY</text></g>
<g id="saterday"><rect class="sh" x="303.5" y="1487.5" width="86" height="18" rx="8"/><rect class="bx" x="302" y="1486" width="86" height="18" rx="8"/><text class="t" x="308" y="1500" textLength="70" lengthAdjust="spacingAndGlyphs">SATERDAY</text></g>
<g id="everyday"><rect class="sh" x="303.5" y="1509.5" width="86" height="18" rx="8"/><rect class="bx" x="302" y="1508" width="86" height="18" rx="8"/><text class="t" x="308" y="1522" textLength="70" lengthAdjust="spacingAndGlyphs">EVERYDAY</text></g>
<g id="no"><rect class="sh" x="433.5" y="1357.5" width="87" height="18" rx="8"/><rect class="bx" x="432" y="1356" width="87" height="18" rx="8"/><text class="t" x="443" y="1370">NO. (1-10)</text></g>
<g id="srgb"><rect class="sh" x="433.5" y="1379.5" width="87" height="18" rx="8"/><rect class="bx" x="432" y="1378" width="87" height="18" rx="8"/><text class="t" x="443" y="1392" textLength="74" lengthAdjust="spacingAndGlyphs">RGB. (1-10)</text></g>
<g id="srgbl"><rect class="sh" x="433.5" y="1401.5" width="87" height="18" rx="8"/><rect class="bx" x="432" y="1400" width="87" height="18" rx="8"/><text class="t" x="438" y="1414" textLength="80" lengthAdjust="spacingAndGlyphs">RGBL.(1-10)</text></g>
<g id="scstm"><rect class="sh" x="433.5" y="1422.5" width="87" height="18" rx="8"/><rect class="bx" x="432" y="1421" width="87" height="18" rx="8"/><text class="t" x="437" y="1435" textLength="81" lengthAdjust="spacingAndGlyphs">CSTM.(1-10)</text></g>
<g id="sstatic"><rect class="sh" x="433.5" y="1444.5" width="87" height="18" rx="8"/><rect class="bx" x="432" y="1443" width="87" height="18" rx="8"/><text class="t" x="443" y="1457">STATIC</text></g>
<g id="plnone"><rect class="sh" x="433.5" y="1466.5" width="87" height="18" rx="8"/><rect class="bx" x="432" y="1465" width="87" height="18" rx="8"/><text class="t" x="443" y="1479">PL NONE</text></g>
<g id="time"><rect class="sh" x="566.5" y="1357.5" width="104" height="36" rx="8"/><rect class="bx" x="565" y="1356" width="104" height="36" rx="8"/><text class="t" x="576" y="1372">00:00&gt;&gt;</text><text class="t" x="576" y="1386">&gt;&gt;00:00</text></g>
</svg>
